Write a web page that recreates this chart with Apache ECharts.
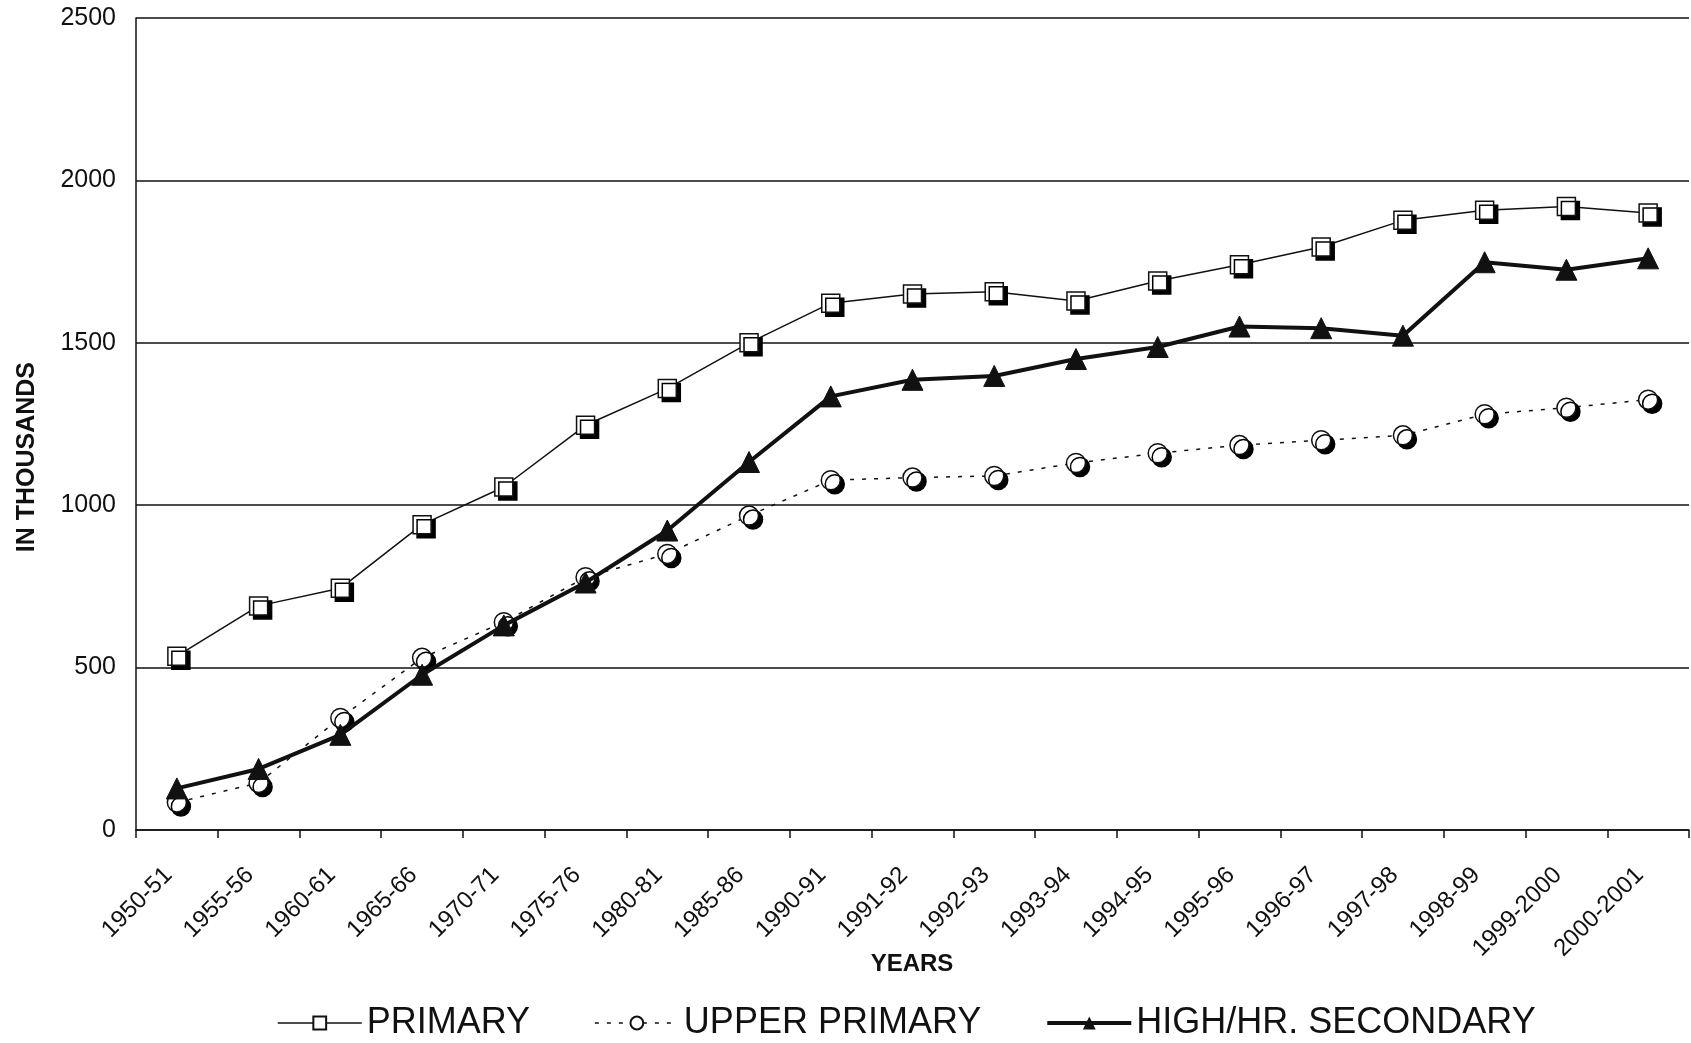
<!DOCTYPE html>
<html>
<head>
<meta charset="utf-8">
<script src="https://cdn.jsdelivr.net/npm/echarts@6/dist/echarts.min.js"></script>
<style>
html,body{margin:0;padding:0;background:#fff;}
#chart{width:1691px;height:1043px;}
</style>
</head>
<body>
<div id="chart"></div>
<script>
const categories = ["1950-51","1955-56","1960-61","1965-66","1970-71","1975-76","1980-81","1985-86","1990-91","1991-92","1992-93","1993-94","1994-95","1995-96","1996-97","1997-98","1998-99","1999-2000","2000-2001"];
const primary = [535,690,744,940,1056,1246,1359,1500,1622,1650,1657,1629,1690,1740,1795,1877,1908,1920,1900];
const upperPrimary = [85,145,345,530,640,778,850,968,1077,1085,1090,1130,1160,1185,1200,1215,1280,1300,1325];
const highSecondary = [128,188,293,478,630,762,922,1133,1335,1386,1398,1450,1487,1550,1545,1522,1748,1725,1760];
const seriesNames = ["PRIMARY","UPPER PRIMARY","HIGH/HR. SECONDARY"];
const yTicks = [0,500,1000,1500,2000,2500];
const yTitle = "IN THOUSANDS";
const xTitle = "YEARS";

const chart = echarts.init(document.getElementById('chart'), null, {renderer:'canvas'});
const font = '"Liberation Sans", Arial, sans-serif';
const shadow = {shadowColor:'#000', shadowBlur:0, shadowOffsetX:4, shadowOffsetY:4};
chart.setOption({
  animation:false,
  backgroundColor:'#fff',
  textStyle:{fontFamily:font, color:'#111'},
  grid:{left:136, right:2, top:18, bottom:213, containLabel:false},
  graphic:[{
    type:'text', left:15, top:362,
    style:{text:yTitle, font:'bold 25px "Liberation Sans", Arial, sans-serif', fill:'#111'},
    rotation:Math.PI/2, originX:0, originY:0
  },{
    type:'text', x:912, y:964,
    style:{text:xTitle, font:'bold 24px "Liberation Sans", Arial, sans-serif', fill:'#111', align:'center', verticalAlign:'middle'}
  }],
  xAxis:{
    type:'category', data:categories, boundaryGap:true,
    axisLine:{lineStyle:{color:'#111', width:1.5}},
    axisTick:{show:true, length:8, lineStyle:{color:'#111', width:1.5}},
    axisLabel:{rotate:45, fontSize:24, color:'#111', margin:33, padding:[0,12,0,0], interval:0, fontFamily:font},
    splitLine:{show:false}
  },
  yAxis:{
    type:'value', min:yTicks[0], max:yTicks[yTicks.length-1], interval:500,
    axisLine:{show:true, lineStyle:{color:'#111', width:1.5}},
    axisTick:{show:false},
    axisLabel:{fontSize:25, color:'#111', margin:20, fontFamily:font, formatter:v=>String(v)},
    splitLine:{show:true, lineStyle:{color:'#111', width:1.5}}
  },
  legend:{
    top:1000, left:272, itemWidth:84, itemHeight:16, itemGap:64,
    textStyle:{fontSize:36, color:'#111', fontFamily:font},
    data:[
      {name:seriesNames[0], lineStyle:{width:1.5}},
      {name:seriesNames[1], lineStyle:{width:1.5}},
      {name:seriesNames[2], lineStyle:{width:4}}
    ]
  },
  series:[
    {name:seriesNames[0], type:'line', data:primary, symbol:'rect', symbolSize:18,
     lineStyle:{color:'#111', width:1.5},
     itemStyle:Object.assign({color:'#fff', borderColor:'#111', borderWidth:1.5}, shadow), z:3},
    {name:seriesNames[1], type:'line', data:upperPrimary, symbol:'circle', symbolSize:19,
     lineStyle:{color:'#111', width:1.5, type:[4,8]},
     itemStyle:Object.assign({color:'#fff', borderColor:'#111', borderWidth:1.5}, shadow), z:2},
    {name:seriesNames[2], type:'line', data:highSecondary, symbol:'triangle', symbolSize:21,
     lineStyle:{color:'#111', width:4},
     itemStyle:{color:'#111', borderColor:'#111'}, z:4}
  ]
});
</script>
</body>
</html>
